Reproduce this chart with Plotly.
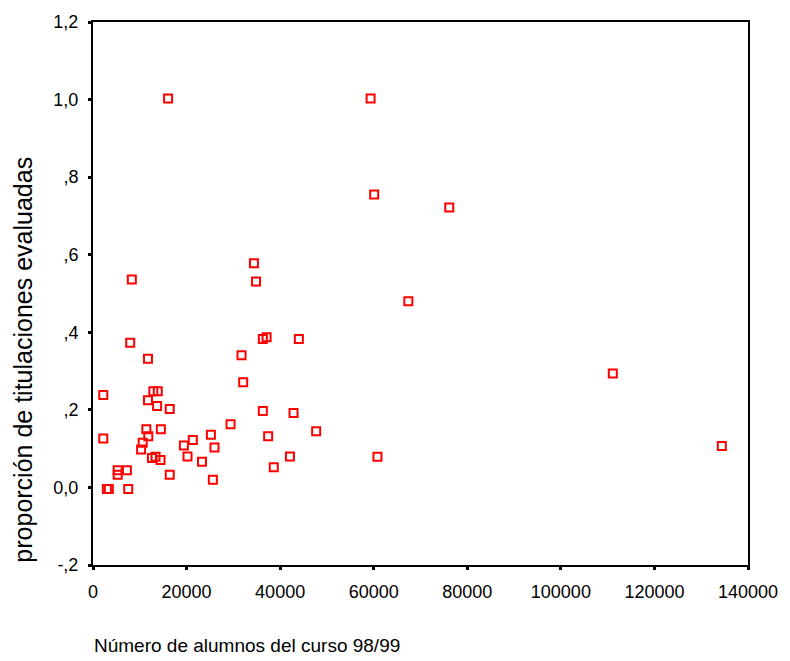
import plotly.graph_objects as go

# Número de alumnos del curso 98/99
alumnos = [16050, 59330, 60100, 76150, 8300, 34400, 34850, 67400, 7950, 36300,
           37100, 44000, 11750, 31750, 111100, 32100, 2200, 12900, 13850, 11750,
           13700, 16400, 36300, 42860, 29400, 47700, 11400, 14500, 2200, 11820,
           37440, 25200, 21330, 10620, 19430, 10280, 25970, 134400, 12600, 13370,
           14430, 20200, 23300, 42090, 60800, 38640, 5280, 5280, 7250, 16400,
           25620, 2960, 3380, 7530]
# proporción de titulaciones evaluadas
proporcion = [1.003, 1.003, 0.755, 0.722, 0.536, 0.578, 0.531, 0.480, 0.373, 0.383,
              0.387, 0.383, 0.332, 0.341, 0.294, 0.271, 0.238, 0.248, 0.248, 0.225,
              0.210, 0.202, 0.197, 0.192, 0.163, 0.145, 0.150, 0.150, 0.126, 0.132,
              0.132, 0.136, 0.122, 0.115, 0.108, 0.098, 0.103, 0.107, 0.076, 0.079,
              0.071, 0.080, 0.066, 0.080, 0.079, 0.052, 0.044, 0.033, 0.044, 0.033,
              0.020, -0.004, -0.004, -0.004]

x_ticks = [0, 20000, 40000, 60000, 80000, 100000, 120000, 140000]
x_ticktext = ["0", "20000", "40000", "60000", "80000", "100000", "120000", "140000"]
y_ticks = [-0.2, 0.0, 0.2, 0.4, 0.6, 0.8, 1.0, 1.2]
y_ticktext = ["-,2", "0,0", ",2", ",4", ",6", ",8", "1,0", "1,2"]

fig = go.Figure()
fig.add_trace(go.Scatter(
    x=alumnos, y=proporcion, mode="markers",
    marker=dict(symbol="square-open", size=8, color="#ff0000",
                line=dict(color="#ff0000", width=2)),
    showlegend=False, cliponaxis=False,
))

font = "Liberation Sans, Arial, sans-serif"
fig.update_layout(
    width=790, height=661,
    margin=dict(l=93, r=33, t=18, b=96),
    paper_bgcolor="white", plot_bgcolor="white",
    font=dict(family=font, color="black", size=18),
    xaxis=dict(range=[0, 140000], tickvals=x_ticks, ticktext=x_ticktext,
               showgrid=False, zeroline=False, showline=True, linecolor="black",
               linewidth=2, mirror=True, ticks="outside", ticklen=3, tickwidth=3,
               tickcolor="black", tickfont=dict(size=18), ticklabelstandoff=6),
    yaxis=dict(range=[-0.2, 1.2], tickvals=y_ticks, ticktext=y_ticktext,
               showgrid=False, zeroline=False, showline=True, linecolor="black",
               linewidth=2, mirror=True, ticks="outside", ticklen=3, tickwidth=3,
               tickcolor="black", tickfont=dict(size=18), ticklabelstandoff=6),
    annotations=[
        dict(text="Número de alumnos del curso 98/99", xref="paper", yref="paper",
             x=-0.002, y=-0.148, xanchor="left", yanchor="middle", showarrow=False,
             font=dict(size=19, family=font)),
        dict(text="proporción de titulaciones evaluadas", xref="paper", yref="paper",
             x=-0.107, y=0.378, xanchor="center", yanchor="middle", textangle=-90,
             showarrow=False, font=dict(size=25, family=font)),
    ],
)

fig.write_html("out.html")
